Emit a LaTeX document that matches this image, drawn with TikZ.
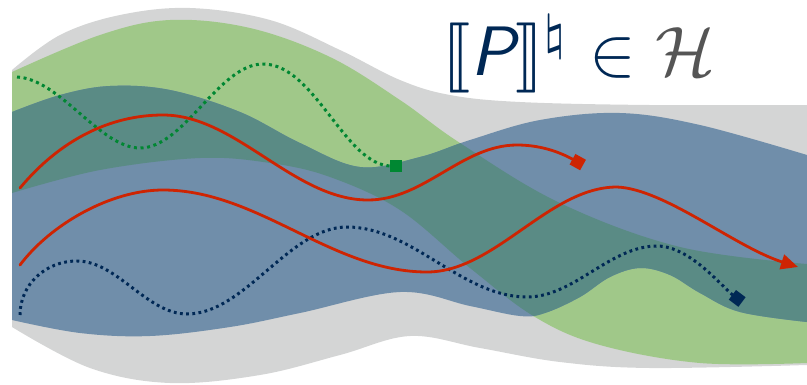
\documentclass[tikz,border=0pt]{standalone}
\usepackage{stmaryrd}
\usetikzlibrary{arrows.meta}
\definecolor{bggray}{RGB}{212,213,213}
\definecolor{bandgreen}{RGB}{160,200,137}
\definecolor{bandblue}{RGB}{112,142,170}
\definecolor{bandteal}{RGB}{90,139,133}
\definecolor{pathred}{RGB}{206,36,2}
\definecolor{pathgreen}{RGB}{0,135,50}
\definecolor{pathnavy}{RGB}{0,40,85}
\definecolor{textgray}{RGB}{85,85,85}
\tikzset{
  redpath/.style={draw=pathred, line width=2.8pt, line cap=round},
  greendots/.style={draw=pathgreen, line width=3pt, dash pattern=on 3pt off 3.6pt},
  navydots/.style={draw=pathnavy, line width=3pt, dash pattern=on 2.8pt off 3.4pt},
}
\newcommand{\grayshape}{plot[smooth,tension=0.6] coordinates {(12,70) (60,35) (120,15) (190,8) (270,20) (340,50) (400,80) (450,95) (520,102) (650,105) (807,105)}
  -- (807,365) -- plot[smooth,tension=0.6] coordinates {(807,365) (650,368) (560,362) (480,348) (410,336) (340,355) (260,375) (170,383) (90,368) (12,327)} -- cycle}
\newcommand{\greenshape}{plot[smooth,tension=0.6] coordinates {(12,72) (100,35) (170,20) (250,28) (330,57) (400,100) (460,143) (560,203) (680,247) (807,264)}
  -- (807,363) -- plot[smooth,tension=0.6] coordinates {(807,363) (700,363) (600,345) (535,317) (470,268) (400,210) (330,177) (270,163) (200,158) (100,170) (12,193)} -- cycle}
\newcommand{\blueshape}{plot[smooth,tension=0.6] coordinates {(12,112) (60,95) (110,86) (170,90) (240,112) (300,143) (360,167) (420,157) (470,140) (540,120) (620,113) (700,125) (807,155)}
  -- (807,322) -- plot[smooth,tension=0.6] coordinates {(807,322) (740,312) (700,293) (670,275) (640,268) (610,277) (580,297) (545,313) (520,316) (470,306) (400,292) (300,313) (230,327) (150,336) (80,333) (12,320)} -- cycle}
\begin{document}
\begin{tikzpicture}[x=1pt,y=-1pt]
\useasboundingbox (0,0) rectangle (807,384);
% bands
\fill[bggray] \grayshape;
\fill[bandgreen] \greenshape;
\fill[bandblue] \blueshape;
\begin{scope}
  \clip \greenshape;
  \fill[bandteal] \blueshape;
\end{scope}
% end points
\coordinate (gs) at (17,77);
\coordinate (ge) at (402,166);
\coordinate (r1s) at (20,188);
\coordinate (r1e) at (583,165);
\coordinate (r2s) at (20,265);
\coordinate (r2e) at (798,267);
\coordinate (ns) at (20,315);
\coordinate (ne) at (742,302);
% paths
\draw[greendots, -{Square[length=12pt,width=12pt]}] (gs)
  .. controls (60,79) and (100,148) .. (140,148)
  .. controls (184,148) and (219,64) .. (263,64)
  .. controls (315,64) and (345,166) .. (ge);
\draw[navydots, -{Square[length=12pt,width=12pt]}] (ns)
  .. controls (20,285) and (45,261) .. (77,261)
  .. controls (117,261) and (147,314) .. (187,314)
  .. controls (245,314) and (289,227) .. (347,227)
  .. controls (412,227) and (462,297) .. (527,297)
  .. controls (574,297) and (610,246) .. (657,246)
  .. controls (690,246) and (722,287) .. (ne);
\draw[redpath, -{Square[length=12pt,width=12pt]}] (r1s)
  .. controls (60,140) and (110,115) .. (163,115)
  .. controls (236,115) and (294,200) .. (368,200)
  .. controls (424,200) and (462,145) .. (517,145)
  .. controls (545,145) and (565,155) .. (r1e);
\draw[redpath, -{Triangle[length=17pt,width=15pt]}] (r2s)
  .. controls (50,225) and (110,190) .. (163,190)
  .. controls (258,190) and (332,272) .. (427,272)
  .. controls (495,272) and (549,187) .. (617,187)
  .. controls (665,189) and (735,247) .. (r2e);
% formula
\node[anchor=base west, inner sep=0pt, scale=7, text=pathnavy] (formula) at (441,75)
  {$\llbracket \mbox{\sffamily\itshape P}\rrbracket^{\natural} \in {\color{textgray}\mathcal{H}}$};
\end{tikzpicture}
\end{document}
